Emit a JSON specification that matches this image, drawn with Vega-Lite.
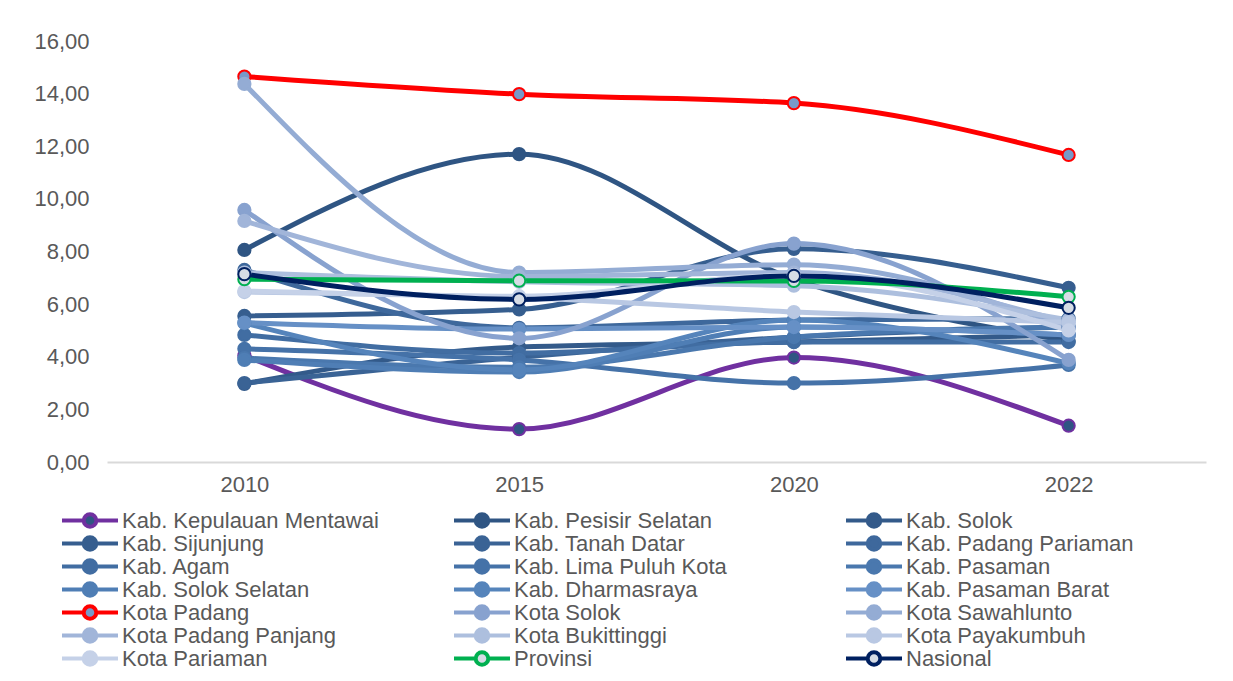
{
  "$schema": "https://vega.github.io/schema/vega-lite/v6.json",
  "autosize": {"type": "none"},
  "width": 1099,
  "height": 421,
  "padding": {"left": 107, "top": 41, "right": 27, "bottom": 219},
  "background": "white",
  "config": {"font": "Liberation Sans", "view": {"stroke": null}},
  "data": {"values": [
    {"s": "Kab. Kepulauan Mentawai", "t": "2010", "v": 4.05}, {"s": "Kab. Kepulauan Mentawai", "t": "2015", "v": 1.25}, {"s": "Kab. Kepulauan Mentawai", "t": "2020", "v": 3.97}, {"s": "Kab. Kepulauan Mentawai", "t": "2022", "v": 1.38},
    {"s": "Kab. Pesisir Selatan", "t": "2010", "v": 8.06}, {"s": "Kab. Pesisir Selatan", "t": "2015", "v": 11.70}, {"s": "Kab. Pesisir Selatan", "t": "2020", "v": 6.95}, {"s": "Kab. Pesisir Selatan", "t": "2022", "v": 4.60},
    {"s": "Kab. Solok", "t": "2010", "v": 2.97}, {"s": "Kab. Solok", "t": "2015", "v": 4.37}, {"s": "Kab. Solok", "t": "2020", "v": 4.56}, {"s": "Kab. Solok", "t": "2022", "v": 4.83},
    {"s": "Kab. Sijunjung", "t": "2010", "v": 5.55}, {"s": "Kab. Sijunjung", "t": "2015", "v": 5.80}, {"s": "Kab. Sijunjung", "t": "2020", "v": 8.10}, {"s": "Kab. Sijunjung", "t": "2022", "v": 6.62},
    {"s": "Kab. Tanah Datar", "t": "2010", "v": 3.00}, {"s": "Kab. Tanah Datar", "t": "2015", "v": 3.98}, {"s": "Kab. Tanah Datar", "t": "2020", "v": 4.75}, {"s": "Kab. Tanah Datar", "t": "2022", "v": 5.13},
    {"s": "Kab. Padang Pariaman", "t": "2010", "v": 7.30}, {"s": "Kab. Padang Pariaman", "t": "2015", "v": 5.10}, {"s": "Kab. Padang Pariaman", "t": "2020", "v": 5.40}, {"s": "Kab. Padang Pariaman", "t": "2022", "v": 5.45},
    {"s": "Kab. Agam", "t": "2010", "v": 4.83}, {"s": "Kab. Agam", "t": "2015", "v": 4.14}, {"s": "Kab. Agam", "t": "2020", "v": 4.56}, {"s": "Kab. Agam", "t": "2022", "v": 4.56},
    {"s": "Kab. Lima Puluh Kota", "t": "2010", "v": 4.30}, {"s": "Kab. Lima Puluh Kota", "t": "2015", "v": 3.88}, {"s": "Kab. Lima Puluh Kota", "t": "2020", "v": 3.00}, {"s": "Kab. Lima Puluh Kota", "t": "2022", "v": 3.69},
    {"s": "Kab. Pasaman", "t": "2010", "v": 3.95}, {"s": "Kab. Pasaman", "t": "2015", "v": 3.60}, {"s": "Kab. Pasaman", "t": "2020", "v": 4.75}, {"s": "Kab. Pasaman", "t": "2022", "v": 5.13},
    {"s": "Kab. Solok Selatan", "t": "2010", "v": 3.88}, {"s": "Kab. Solok Selatan", "t": "2015", "v": 3.42}, {"s": "Kab. Solok Selatan", "t": "2020", "v": 5.13}, {"s": "Kab. Solok Selatan", "t": "2022", "v": 4.83},
    {"s": "Kab. Dharmasraya", "t": "2010", "v": 5.28}, {"s": "Kab. Dharmasraya", "t": "2015", "v": 3.50}, {"s": "Kab. Dharmasraya", "t": "2020", "v": 5.40}, {"s": "Kab. Dharmasraya", "t": "2022", "v": 3.75},
    {"s": "Kab. Pasaman Barat", "t": "2010", "v": 5.30}, {"s": "Kab. Pasaman Barat", "t": "2015", "v": 5.05}, {"s": "Kab. Pasaman Barat", "t": "2020", "v": 5.13}, {"s": "Kab. Pasaman Barat", "t": "2022", "v": 4.83},
    {"s": "Kota Padang", "t": "2010", "v": 14.65}, {"s": "Kota Padang", "t": "2015", "v": 13.98}, {"s": "Kota Padang", "t": "2020", "v": 13.64}, {"s": "Kota Padang", "t": "2022", "v": 11.67},
    {"s": "Kota Solok", "t": "2010", "v": 9.58}, {"s": "Kota Solok", "t": "2015", "v": 4.70}, {"s": "Kota Solok", "t": "2020", "v": 8.30}, {"s": "Kota Solok", "t": "2022", "v": 3.88},
    {"s": "Kota Sawahlunto", "t": "2010", "v": 14.37}, {"s": "Kota Sawahlunto", "t": "2015", "v": 7.20}, {"s": "Kota Sawahlunto", "t": "2020", "v": 7.50}, {"s": "Kota Sawahlunto", "t": "2022", "v": 5.13},
    {"s": "Kota Padang Panjang", "t": "2010", "v": 9.16}, {"s": "Kota Padang Panjang", "t": "2015", "v": 7.05}, {"s": "Kota Padang Panjang", "t": "2020", "v": 7.20}, {"s": "Kota Padang Panjang", "t": "2022", "v": 5.30},
    {"s": "Kota Bukittinggi", "t": "2010", "v": 7.20}, {"s": "Kota Bukittinggi", "t": "2015", "v": 6.85}, {"s": "Kota Bukittinggi", "t": "2020", "v": 6.70}, {"s": "Kota Bukittinggi", "t": "2022", "v": 5.40},
    {"s": "Kota Payakumbuh", "t": "2010", "v": 6.46}, {"s": "Kota Payakumbuh", "t": "2015", "v": 6.25}, {"s": "Kota Payakumbuh", "t": "2020", "v": 5.70}, {"s": "Kota Payakumbuh", "t": "2022", "v": 5.30},
    {"s": "Kota Pariaman", "t": "2010", "v": 6.50}, {"s": "Kota Pariaman", "t": "2015", "v": 6.30}, {"s": "Kota Pariaman", "t": "2020", "v": 7.10}, {"s": "Kota Pariaman", "t": "2022", "v": 5.00},
    {"s": "Provinsi", "t": "2010", "v": 6.95}, {"s": "Provinsi", "t": "2015", "v": 6.89}, {"s": "Provinsi", "t": "2020", "v": 6.88}, {"s": "Provinsi", "t": "2022", "v": 6.28},
    {"s": "Nasional", "t": "2010", "v": 7.14}, {"s": "Nasional", "t": "2015", "v": 6.18}, {"s": "Nasional", "t": "2020", "v": 7.07}, {"s": "Nasional", "t": "2022", "v": 5.86}
  ]},
  "encoding": {
    "x": {"field": "t", "type": "ordinal", "scale": {"type": "point", "padding": 0.5},
      "axis": {"title": null, "labelAngle": 0, "ticks": false, "grid": false, "domainColor": "#D9D9D9", "domainWidth": 2, "labelFontSize": 22, "labelColor": "#595959", "labelPadding": 12}},
    "y": {"field": "v", "type": "quantitative", "scale": {"domain": [0, 16], "nice": false},
      "axis": {"title": null, "domain": false, "ticks": false, "grid": false, "values": [0, 2, 4, 6, 8, 10, 12, 14, 16], "labelExpr": "replace(format(datum.value, '.2f'), '.', ',')", "labelFontSize": 22, "labelColor": "#595959", "labelPadding": 18}}
  },
  "layer": [
    {
      "mark": {"type": "line", "interpolate": "monotone", "strokeWidth": 5},
      "encoding": {
        "stroke": {"field": "s", "type": "nominal",
          "scale": {
            "domain": ["Kab. Kepulauan Mentawai", "Kab. Pesisir Selatan", "Kab. Solok", "Kab. Sijunjung", "Kab. Tanah Datar", "Kab. Padang Pariaman", "Kab. Agam", "Kab. Lima Puluh Kota", "Kab. Pasaman", "Kab. Solok Selatan", "Kab. Dharmasraya", "Kab. Pasaman Barat", "Kota Padang", "Kota Solok", "Kota Sawahlunto", "Kota Padang Panjang", "Kota Bukittinggi", "Kota Payakumbuh", "Kota Pariaman", "Provinsi", "Nasional"],
            "range": ["#7030A0", "#2F5583", "#335A8A", "#365E8F", "#3A6395", "#3E689C", "#416DA2", "#4572A8", "#4A78AE", "#4F7EB5", "#5584BB", "#6690C6", "#FF0000", "#88A2CF", "#94ACD4", "#A1B5D9", "#ADBFDE", "#B9C8E3", "#C5D1E8", "#00B050", "#002060"]
          },
          "legend": {
            "title": null, "orient": "none", "direction": "horizontal", "legendX": -47, "legendY": 468, "columns": 3, "gridAlign": "all",
            "columnPadding": 73, "rowPadding": 0, "clipHeight": 23, "padding": 0,
            "symbolType": "M-1.2857,0L1.8143,0M3.6143,0L6.7143,0M3.6143,0A0.9,0.9,0,1,1,1.8143,0A0.9,0.9,0,1,1,3.6143,0Z",
            "symbolSize": 196, "symbolStrokeWidth": 4, "symbolOpacity": 1,
            "labelFontSize": 22, "labelColor": "#595959", "labelOffset": 40, "labelLimit": 400,
            "encode": {"symbols": {"update": {"fill": {"scale": "fill", "field": "value"}, "stroke": {"scale": "stroke", "field": "value"}}}}
          }
        }
      }
    },
    {
      "mark": {"type": "point", "shape": "circle", "filled": true, "size": 150, "strokeWidth": 2, "opacity": 1},
      "encoding": {
        "stroke": {"field": "s", "type": "nominal"},
        "fill": {"field": "s", "type": "nominal", "legend": null,
          "scale": {
            "domain": ["Kab. Kepulauan Mentawai", "Kab. Pesisir Selatan", "Kab. Solok", "Kab. Sijunjung", "Kab. Tanah Datar", "Kab. Padang Pariaman", "Kab. Agam", "Kab. Lima Puluh Kota", "Kab. Pasaman", "Kab. Solok Selatan", "Kab. Dharmasraya", "Kab. Pasaman Barat", "Kota Padang", "Kota Solok", "Kota Sawahlunto", "Kota Padang Panjang", "Kota Bukittinggi", "Kota Payakumbuh", "Kota Pariaman", "Provinsi", "Nasional"],
            "range": ["#2F5583", "#2F5583", "#335A8A", "#365E8F", "#3A6395", "#3E689C", "#416DA2", "#4572A8", "#4A78AE", "#4F7EB5", "#5584BB", "#6690C6", "#7899C9", "#88A2CF", "#94ACD4", "#A1B5D9", "#ADBFDE", "#B9C8E3", "#C5D1E8", "#D6DCE5", "#D6DCE5"]
          }
        }
      }
    }
  ]
}
